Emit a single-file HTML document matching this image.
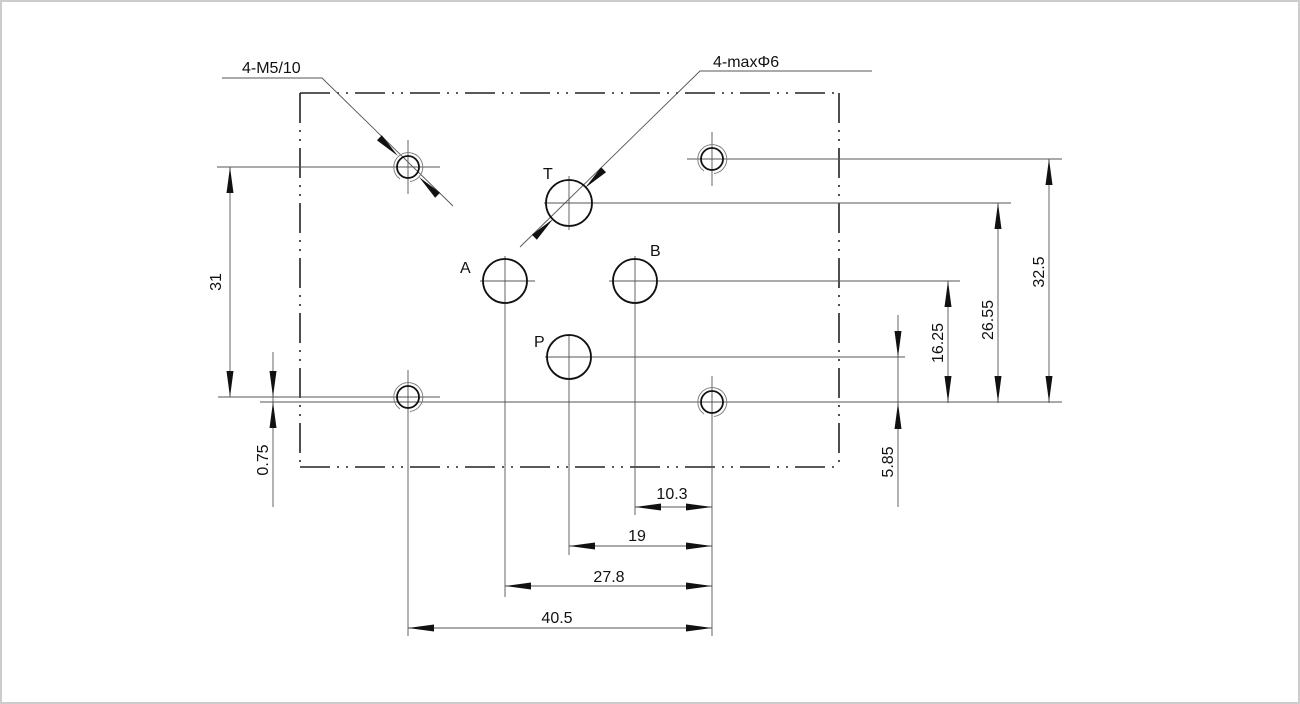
<!DOCTYPE html>
<html><head><meta charset="utf-8"><style>
html,body{margin:0;padding:0;background:#fff}
svg{display:block}
text{font-family:"Liberation Sans",Arial,sans-serif;fill:#111}
</style></head><body>
<svg width="1300" height="704" viewBox="0 0 1300 704" xmlns="http://www.w3.org/2000/svg">
<rect x="1" y="1" width="1298" height="702" fill="#fff" stroke="#ccc" stroke-width="2"/>
<g stroke="#222" stroke-width="1.6" fill="none" stroke-dasharray="30 7 2 7 2 7">
<path d="M300 93 H839"/><path d="M300 93 V467"/><path d="M300 467 H839"/><path d="M839 93 V467"/>
</g>
<g stroke="#555" stroke-width="0.9" fill="none">
<path d="M217 167 H440"/><path d="M687 159 H1062"/><path d="M544 203 H1011"/>
<path d="M609 281 H960"/><path d="M480 281 H535"/><path d="M545 357 H905"/>
<path d="M218 397 H440"/><path d="M260 402 H1062"/>
<path d="M408 140 V194"/><path d="M712 132 V186"/><path d="M569 176 V230"/>
<path d="M505 256 V306"/><path d="M635 256 V306"/>
<path d="M408 370 V636"/><path d="M712 376 V636"/>
<path d="M505 306 V597"/><path d="M569 334 V555"/><path d="M635 306 V515"/>
<path d="M230 167 V397"/><path d="M273 352 V507"/><path d="M898 315 V507"/>
<path d="M948 281 V403"/><path d="M998 203 V403"/><path d="M1049 159 V403"/>
<path d="M635 507 H712"/><path d="M569 546 H712"/><path d="M505 586 H712"/><path d="M408 628 H712"/>
<path d="M222 78 H322 L453 206"/><path d="M872 71 H700 L520 247"/>
</g>
<g fill="none" stroke="#111" stroke-width="1.8">
<circle cx="408" cy="167" r="11"/><circle cx="712" cy="159" r="11"/>
<circle cx="408" cy="397" r="11"/><circle cx="712" cy="402" r="11"/>
<circle cx="569" cy="203" r="23"/><circle cx="505" cy="281" r="22"/>
<circle cx="635" cy="281" r="22"/><circle cx="569" cy="357" r="22"/>
</g>
<g fill="none" stroke="#777" stroke-width="0.9">
<path d="M400 179 A14.5 14.5 0 1 1 410 181.5"/>
<path d="M704 171 A14.5 14.5 0 1 1 714 173.5"/>
<path d="M400 409 A14.5 14.5 0 1 1 410 411.5"/>
<path d="M704 414 A14.5 14.5 0 1 1 714 416.5"/>
</g>
<g fill="#111">
<polygon points="230,167 226.5,193 233.5,193"/><polygon points="230,397 226.5,371 233.5,371"/>
<polygon points="273,397 269.5,371 276.5,371"/><polygon points="273,402 269.5,428 276.5,428"/>
<polygon points="898,357 894.5,331 901.5,331"/><polygon points="898,403 894.5,429 901.5,429"/>
<polygon points="948,281 944.5,307 951.5,307"/><polygon points="948,402 944.5,376 951.5,376"/>
<polygon points="998,203 994.5,229 1001.5,229"/><polygon points="998,402 994.5,376 1001.5,376"/>
<polygon points="1049,159 1045.5,185 1052.5,185"/><polygon points="1049,402 1045.5,376 1052.5,376"/>
<polygon points="635,507 661,503.5 661,510.5"/><polygon points="712,507 686,503.5 686,510.5"/>
<polygon points="569,546 595,542.5 595,549.5"/><polygon points="712,546 686,542.5 686,549.5"/>
<polygon points="505,586 531,582.5 531,589.5"/><polygon points="712,586 686,582.5 686,589.5"/>
<polygon points="408,628 434,624.5 434,631.5"/><polygon points="712,628 686,624.5 686,631.5"/>
<polygon points="398,156 376.95,140.3 381.85,135.3"/><polygon points="419,177 435.15,197.7 440.05,192.7"/>
<polygon points="585,188 606.05,172.3 601.15,167.3"/><polygon points="553,219 536.85,239.7 531.95,234.7"/>
</g>
<g font-size="16">
<text x="242" y="73">4-M5/10</text>
<text x="713" y="67">4-maxΦ6</text>
<text x="543" y="179">T</text><text x="460" y="273">A</text>
<text x="650" y="256">B</text><text x="534" y="347">P</text>
<text x="672" y="499" text-anchor="middle">10.3</text>
<text x="637" y="541" text-anchor="middle">19</text>
<text x="609" y="582" text-anchor="middle">27.8</text>
<text x="557" y="623" text-anchor="middle">40.5</text>
<text transform="translate(221,282) rotate(-90)" text-anchor="middle">31</text>
<text transform="translate(268,460) rotate(-90)" text-anchor="middle">0.75</text>
<text transform="translate(893,462) rotate(-90)" text-anchor="middle">5.85</text>
<text transform="translate(943,343) rotate(-90)" text-anchor="middle">16.25</text>
<text transform="translate(993,320) rotate(-90)" text-anchor="middle">26.55</text>
<text transform="translate(1044,272) rotate(-90)" text-anchor="middle">32.5</text>
</g>
</svg>
</body></html>
